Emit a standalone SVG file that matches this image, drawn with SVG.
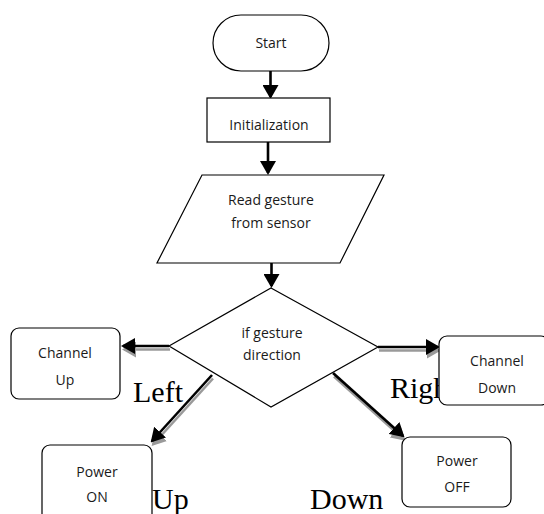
<svg xmlns="http://www.w3.org/2000/svg" width="544" height="514" viewBox="0 0 544 514">
<style>
.shape{fill:#fff;stroke:#000;stroke-width:1.2}
.t{font-family:"Open Sans","DejaVu Sans",sans-serif;font-size:14px;fill:#1a1a1a;text-anchor:middle}
.lbl{font-family:"Liberation Serif","Times New Roman",serif;font-size:30px;fill:#000}
.ar{stroke:#000;stroke-width:2.6;fill:none}
.sh{stroke:#9a9a9a;stroke-width:2.6;fill:none}
</style>
<defs>
<marker id="hb" viewBox="0 0 14 16" refX="12" refY="8" markerWidth="14" markerHeight="16" markerUnits="userSpaceOnUse" orient="auto">
<path d="M0,0 L14,8 L0,16 z" fill="#000"/>
</marker>
<marker id="hg" viewBox="0 0 14 16" refX="12" refY="8" markerWidth="14" markerHeight="16" markerUnits="userSpaceOnUse" orient="auto">
<path d="M0,0 L14,8 L0,16 z" fill="#9a9a9a"/>
</marker>
</defs>
<rect width="544" height="514" fill="#fff"/>

<g id="connectors">
<line class="ar" x1="270.5" y1="71" x2="270.5" y2="97" marker-end="url(#hb)"/>
<line class="ar" x1="268" y1="142" x2="268" y2="173" marker-end="url(#hb)"/>
<line class="ar" x1="271.5" y1="263" x2="271.5" y2="286" marker-end="url(#hb)"/>
<g transform="translate(1,3.5)">
<line class="sh" x1="169" y1="346" x2="123" y2="346" marker-end="url(#hg)"/>
<line class="sh" x1="378" y1="347" x2="438" y2="347" marker-end="url(#hg)"/>
<line class="sh" x1="212" y1="375" x2="152" y2="441" marker-end="url(#hg)"/>
<line class="sh" x1="333" y1="373" x2="403" y2="436" marker-end="url(#hg)"/>
</g>
<line class="ar" x1="169" y1="346" x2="123" y2="346" marker-end="url(#hb)"/>
<line class="ar" x1="378" y1="347" x2="438" y2="347" marker-end="url(#hb)"/>
<line class="ar" x1="212" y1="375" x2="152" y2="441" marker-end="url(#hb)"/>
<line class="ar" x1="333" y1="373" x2="403" y2="436" marker-end="url(#hb)"/>
</g>

<g id="labels">
<text class="lbl" x="133" y="402">Left</text>
<text class="lbl" x="390" y="398">Right</text>
<text class="lbl" x="152" y="509">Up</text>
<text class="lbl" x="310" y="509">Down</text>
</g>

<g id="start">
<rect class="shape" x="213" y="15" width="116" height="56" rx="28" ry="28"/>
<text class="t" x="271" y="48">Start</text>
</g>
<g id="init">
<rect class="shape" x="207" y="98" width="123" height="44"/>
<text class="t" x="269" y="130">Initialization</text>
</g>
<g id="read">
<polygon class="shape" points="202,175 384,175 340,263 157,263"/>
<text class="t" x="271" y="205">Read gesture</text>
<text class="t" x="271" y="228">from sensor</text>
</g>
<g id="decision">
<polygon class="shape" points="271,288 378,347 271,407 169,346"/>
<text class="t" x="272" y="338">if gesture</text>
<text class="t" x="272" y="360">direction</text>
</g>
<g id="channel-up">
<rect class="shape" x="11" y="328" width="109" height="71" rx="8"/>
<text class="t" x="65" y="358">Channel</text>
<text class="t" x="65" y="385">Up</text>
</g>
<g id="channel-down">
<rect class="shape" x="439" y="336" width="110" height="69" rx="8"/>
<text class="t" x="497" y="366">Channel</text>
<text class="t" x="497" y="393">Down</text>
</g>
<g id="power-on">
<rect class="shape" x="42" y="445" width="110" height="80" rx="8"/>
<text class="t" x="97" y="477">Power</text>
<text class="t" x="97" y="502">ON</text>
</g>
<g id="power-off">
<rect class="shape" x="402" y="437" width="109" height="70" rx="8"/>
<text class="t" x="457" y="466">Power</text>
<text class="t" x="457" y="492">OFF</text>
</g>
</svg>
